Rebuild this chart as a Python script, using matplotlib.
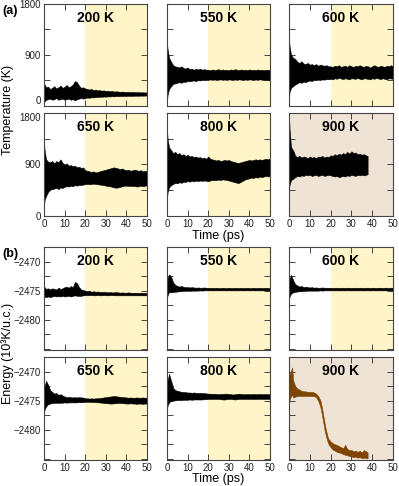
import matplotlib
matplotlib.use("Agg")
import matplotlib.pyplot as plt
from matplotlib.ticker import MultipleLocator, FixedLocator

plt.rcParams['font.family'] = ['Liberation Sans', 'DejaVu Sans']
plt.rcParams['axes.unicode_minus'] = True

# ---------------- data ----------------
TIME = [0, 0.3, 1, 2, 3, 4, 5, 6, 7, 8, 9, 10, 11, 12, 13, 14, 15, 16, 17, 18, 19, 20,
        21, 22, 23, 24, 25, 26, 27, 28, 29, 30, 31, 32, 33, 34, 35, 36, 37, 38, 39, 40,
        41, 42, 43, 44, 45, 46, 47, 48, 49, 50]
TIME_900 = [0, 0.3, 1, 2, 3, 4, 5, 6, 7, 8, 9, 10, 11, 12, 13, 14, 15, 16, 17, 18, 19, 20,
            21, 22, 23, 24, 25, 26, 27, 28, 29, 30, 31, 32, 33, 34, 35, 36, 37, 37.8]

TEMP_LABELS = ["200 K", "550 K", "600 K", "650 K", "800 K", "900 K"]
TEMP_TICKS = [0, 900, 1800]
ENERGY_TICKS = [-2480, -2475, -2470]

# Temperature (K) envelopes: upper / lower
T200_UP = [350, 380, 330, 340, 300, 320, 350, 310, 330, 360, 320, 340, 370, 330, 350, 380, 440, 420,
           360, 320, 330, 310, 300, 290, 300, 280, 290, 275, 280, 270, 275, 265, 270, 260, 265, 255,
           260, 255, 250, 255, 250, 248, 250, 245, 248, 245, 243, 245, 240, 242, 240, 238]
T200_LO = [100, 80, 110, 120, 130, 110, 120, 140, 110, 120, 130, 110, 120, 130, 110, 120, 100, 120,
           130, 140, 130, 140, 150, 145, 155, 150, 160, 158, 165, 162, 168, 165, 170, 168, 172, 170,
           175, 173, 176, 175, 178, 177, 180, 178, 180, 181, 182, 181, 183, 182, 184, 184]
T550_UP = [1100, 1000, 850, 780, 720, 700, 690, 680, 700, 670, 660, 680, 650, 660, 640, 655, 645, 660,
           640, 650, 640, 640, 630, 645, 635, 640, 650, 630, 645, 635, 640, 630, 645, 635, 650, 640,
           630, 645, 635, 640, 630, 645, 635, 640, 630, 645, 635, 640, 630, 640, 635, 640]
T550_LO = [100, 200, 300, 350, 390, 400, 410, 420, 410, 430, 425, 440, 435, 445, 450, 440, 455, 450,
           460, 455, 460, 460, 470, 462, 468, 460, 465, 470, 462, 468, 460, 470, 465, 460, 468, 462,
           470, 465, 460, 468, 462, 470, 465, 460, 468, 462, 470, 465, 460, 468, 462, 466]
T600_UP = [1170, 1050, 900, 850, 830, 780, 760, 790, 750, 740, 760, 730, 740, 720, 740, 710, 730, 720,
           710, 720, 700, 700, 690, 710, 700, 720, 690, 700, 710, 690, 720, 700, 690, 710, 700, 720,
           700, 690, 710, 700, 680, 700, 720, 700, 690, 710, 700, 690, 710, 700, 720, 700]
T600_LO = [150, 250, 320, 350, 380, 400, 420, 410, 430, 420, 440, 450, 440, 460, 455, 465, 460, 470,
           465, 475, 470, 480, 470, 490, 480, 500, 485, 475, 490, 480, 470, 490, 485, 480, 495, 480,
           470, 490, 485, 480, 470, 490, 480, 495, 485, 475, 490, 480, 470, 490, 485, 480]
T650_UP = [1280, 1150, 990, 950, 940, 960, 920, 960, 940, 990, 930, 900, 920, 880, 890, 870, 880, 850,
           860, 840, 850, 800, 790, 780, 770, 780, 760, 770, 780, 790, 800, 810, 820, 830, 840, 850,
           840, 830, 820, 830, 810, 800, 810, 790, 800, 810, 800, 790, 800, 780, 790, 780]
T650_LO = [170, 280, 350, 420, 460, 470, 480, 490, 470, 500, 490, 510, 520, 515, 530, 520, 540, 530,
           545, 540, 550, 555, 560, 555, 560, 565, 560, 555, 550, 545, 540, 530, 525, 520, 510, 500,
           495, 500, 510, 520, 530, 530, 525, 530, 520, 525, 515, 520, 530, 520, 530, 535]
T800_UP = [1500, 1350, 1200, 1150, 1100, 1120, 1080, 1100, 1060, 1080, 1050, 1070, 1040, 1050, 1030,
           1040, 1020, 1030, 1010, 1020, 1000, 1040, 1000, 990, 980, 970, 980, 960, 970, 980, 970, 980,
           960, 950, 940, 930, 930, 940, 950, 960, 970, 980, 970, 980, 990, 980, 990, 980, 990, 1000,
           990, 1000]
T800_LO = [300, 420, 500, 540, 560, 580, 570, 590, 580, 600, 595, 610, 600, 615, 605, 620, 610, 620,
           615, 620, 615, 610, 620, 630, 625, 630, 635, 630, 640, 635, 630, 620, 610, 600, 590, 580,
           580, 600, 620, 640, 650, 660, 670, 665, 680, 670, 690, 680, 690, 700, 690, 700]
T900_UP = [1770, 1500, 1200, 1150, 1050, 1030, 1050, 1020, 1040, 1030, 1010, 1040, 1020, 1030, 1010,
           1040, 1030, 1050, 1020, 1040, 1030, 1060, 1050, 1080, 1060, 1090, 1070, 1100, 1080, 1120,
           1090, 1130, 1100, 1110, 1080, 1090, 1070, 1080, 1060, 1050]
T900_LO = [460, 550, 630, 650, 680, 700, 690, 710, 700, 720, 710, 720, 700, 710, 720, 700, 710, 720,
           700, 710, 720, 710, 700, 690, 700, 680, 690, 700, 690, 710, 700, 720, 710, 700, 720, 710,
           720, 710, 720, 730]

# Energy (10^3 K / u.c.) envelopes
E200_UP = [-2474.6, -2474.4, -2474.7, -2474.6, -2474.8, -2474.6, -2474.7, -2474.8, -2474.5, -2474.7,
           -2474.6, -2474.4, -2474.3, -2474.5, -2474.2, -2474.4, -2473.5, -2473.7, -2474.4, -2474.8,
           -2474.9, -2475.0, -2475.1, -2475.0, -2475.2, -2475.1, -2475.2, -2475.15, -2475.2, -2475.25,
           -2475.2, -2475.25, -2475.3, -2475.25, -2475.3, -2475.3, -2475.25, -2475.3, -2475.35, -2475.3,
           -2475.35, -2475.35, -2475.3, -2475.35, -2475.4, -2475.35, -2475.4, -2475.4, -2475.35, -2475.4,
           -2475.4, -2475.4]
E200_LO = [-2476.2, -2476.0, -2476.1, -2476.0, -2476.1, -2476.0, -2475.9, -2476.0, -2475.95, -2476.0,
           -2475.9, -2476.0, -2475.95, -2475.9, -2476.0, -2475.9, -2475.8, -2475.9, -2475.9, -2475.9,
           -2475.8, -2475.8, -2475.75, -2475.8, -2475.75, -2475.8, -2475.8, -2475.75, -2475.8, -2475.8,
           -2475.75, -2475.8, -2475.8, -2475.8, -2475.75, -2475.8, -2475.8, -2475.8, -2475.8, -2475.8,
           -2475.8, -2475.8, -2475.8, -2475.8, -2475.8, -2475.8, -2475.8, -2475.8, -2475.8, -2475.8,
           -2475.8, -2475.8]
E550_UP = [-2474.0, -2472.8, -2472.2, -2472.6, -2473.6, -2474.0, -2474.2, -2474.3, -2474.2, -2474.35,
           -2474.4, -2474.4, -2474.45, -2474.4, -2474.45, -2474.5, -2474.45, -2474.5, -2474.5, -2474.45,
           -2474.5, -2474.5, -2474.55, -2474.5, -2474.55, -2474.5, -2474.55, -2474.55, -2474.5, -2474.55,
           -2474.55, -2474.5, -2474.55, -2474.55, -2474.5, -2474.55, -2474.55, -2474.5, -2474.55, -2474.55,
           -2474.5, -2474.55, -2474.55, -2474.5, -2474.55, -2474.55, -2474.5, -2474.55, -2474.55, -2474.5,
           -2474.55, -2474.55]
E550_LO = [-2476.2, -2475.8, -2475.2, -2475.3, -2475.2, -2475.2, -2475.15, -2475.1, -2475.1, -2475.05,
           -2475.05, -2475.0, -2475.05, -2475.0, -2475.0, -2475.0, -2475.0, -2474.95, -2475.0, -2474.95,
           -2474.95, -2474.95, -2474.95, -2474.95, -2474.95, -2474.95, -2474.95, -2474.95, -2474.95,
           -2474.95, -2474.95, -2474.95, -2474.95, -2474.95, -2474.95, -2474.95, -2474.95, -2474.95,
           -2474.95, -2474.95, -2474.95, -2474.95, -2474.95, -2474.95, -2474.95, -2474.95, -2474.95,
           -2474.95, -2474.95, -2474.95, -2474.95, -2474.95]
E600_UP = [-2474.2, -2473.0, -2472.3, -2473.2, -2473.9, -2474.1, -2474.3, -2474.2, -2474.4, -2474.3,
           -2474.4, -2474.45, -2474.4, -2474.5, -2474.45, -2474.5, -2474.5, -2474.45, -2474.5, -2474.5,
           -2474.5, -2474.5, -2474.55, -2474.5, -2474.5, -2474.55, -2474.5, -2474.5, -2474.55, -2474.5,
           -2474.5, -2474.55, -2474.5, -2474.5, -2474.55, -2474.5, -2474.5, -2474.55, -2474.5, -2474.5,
           -2474.55, -2474.5, -2474.5, -2474.55, -2474.5, -2474.5, -2474.55, -2474.5, -2474.5, -2474.55,
           -2474.5, -2474.5]
E600_LO = [-2476.5, -2476.0, -2475.5, -2475.3, -2475.2, -2475.15, -2475.1, -2475.1, -2475.05, -2475.05,
           -2475.0, -2475.0, -2475.0, -2475.0, -2475.0, -2475.0, -2474.95, -2475.0, -2474.95, -2474.95,
           -2474.95, -2474.95, -2474.95, -2474.95, -2474.95, -2474.95, -2474.95, -2474.95, -2474.95,
           -2474.95, -2474.95, -2474.95, -2474.95, -2474.95, -2474.95, -2474.95, -2474.95, -2474.95,
           -2474.95, -2474.95, -2474.95, -2474.95, -2474.95, -2474.95, -2474.95, -2474.95, -2474.95,
           -2474.95, -2474.95, -2474.95, -2474.95, -2474.95]
E650_UP = [-2473.7, -2472.5, -2471.6, -2472.3, -2473.2, -2473.5, -2473.8, -2473.7, -2474.0, -2473.9,
           -2474.1, -2474.3, -2474.4, -2474.35, -2474.4, -2474.45, -2474.4, -2474.45, -2474.4, -2474.45,
           -2474.45, -2474.6, -2474.6, -2474.65, -2474.6, -2474.65, -2474.6, -2474.6, -2474.55, -2474.5,
           -2474.45, -2474.4, -2474.35, -2474.3, -2474.25, -2474.2, -2474.25, -2474.3, -2474.35, -2474.4,
           -2474.4, -2474.45, -2474.5, -2474.45, -2474.5, -2474.5, -2474.45, -2474.5, -2474.5, -2474.45,
           -2474.5, -2474.5]
E650_LO = [-2477.3, -2476.5, -2476.0, -2475.6, -2475.5, -2475.4, -2475.4, -2475.35, -2475.4, -2475.35,
           -2475.35, -2475.3, -2475.35, -2475.3, -2475.3, -2475.3, -2475.3, -2475.3, -2475.25, -2475.3,
           -2475.25, -2475.2, -2475.2, -2475.2, -2475.2, -2475.25, -2475.25, -2475.3, -2475.3, -2475.35,
           -2475.4, -2475.45, -2475.45, -2475.5, -2475.5, -2475.45, -2475.45, -2475.4, -2475.4, -2475.45,
           -2475.45, -2475.5, -2475.5, -2475.45, -2475.5, -2475.5, -2475.55, -2475.5, -2475.5, -2475.55,
           -2475.5, -2475.5]
E800_UP = [-2473.0, -2471.5, -2470.4, -2471.6, -2472.8, -2473.2, -2473.3, -2473.4, -2473.5, -2473.5,
           -2473.55, -2473.6, -2473.6, -2473.65, -2473.6, -2473.65, -2473.7, -2473.65, -2473.7, -2473.7,
           -2473.75, -2473.8, -2473.8, -2473.85, -2473.8, -2473.85, -2473.9, -2473.85, -2473.85, -2473.8,
           -2473.8, -2473.85, -2473.9, -2473.95, -2473.9, -2473.85, -2473.8, -2473.85, -2473.9, -2473.9,
           -2473.85, -2473.9, -2473.9, -2473.85, -2473.9, -2473.9, -2473.85, -2473.9, -2473.9, -2473.85,
           -2473.9, -2473.9]
E800_LO = [-2476.5, -2475.8, -2475.3, -2475.0, -2475.0, -2474.95, -2474.9, -2474.9, -2474.9, -2474.85,
           -2474.85, -2474.85, -2474.8, -2474.85, -2474.8, -2474.8, -2474.8, -2474.8, -2474.8, -2474.75,
           -2474.75, -2474.7, -2474.7, -2474.7, -2474.7, -2474.7, -2474.7, -2474.75, -2474.8, -2474.8,
           -2474.75, -2474.7, -2474.7, -2474.75, -2474.8, -2474.75, -2474.7, -2474.7, -2474.7, -2474.7,
           -2474.7, -2474.7, -2474.7, -2474.7, -2474.7, -2474.7, -2474.7, -2474.7, -2474.7, -2474.7,
           -2474.7, -2474.7]
TIME_E900 = [0, 0.3, 1, 1.5, 2, 3, 4, 5, 6, 7, 8, 9, 10, 11, 12, 13, 14, 15, 15.5, 16, 16.5, 17, 17.5,
             18, 18.5, 19, 20, 21, 22, 23, 24, 25, 26, 27, 28, 29, 30, 31, 32, 33, 34, 35, 36, 37, 37.8]
E900_UP = [-2471.2, -2470.5, -2469.8, -2469.3, -2471.5, -2472.5, -2472.9, -2473.1, -2473.3, -2473.4,
           -2473.4, -2473.5, -2473.5, -2473.5, -2473.6, -2473.8, -2474.2, -2474.9, -2475.6, -2476.5,
           -2477.6, -2478.6, -2479.6, -2480.4, -2481.1, -2481.6, -2482.0, -2482.3, -2482.5, -2482.6,
           -2482.8, -2483.0, -2483.2, -2482.6, -2483.3, -2483.5, -2483.5, -2483.7, -2483.6, -2483.8,
           -2483.6, -2483.9, -2483.5, -2483.7, -2483.9]
E900_LO = [-2475.9, -2474.8, -2474.2, -2474.0, -2474.5, -2474.3, -2474.2, -2474.2, -2474.2, -2474.2,
           -2474.2, -2474.2, -2474.2, -2474.2, -2474.2, -2474.4, -2475.0, -2476.0, -2476.8, -2477.8,
           -2478.8, -2479.8, -2480.7, -2481.4, -2482.0, -2482.5, -2483.0, -2483.4, -2483.6, -2483.8,
           -2483.9, -2484.0, -2484.2, -2484.3, -2484.4, -2484.5, -2484.6, -2484.7, -2484.6, -2484.8,
           -2484.7, -2484.9, -2484.8, -2484.9, -2484.9]

TEMP_SERIES = [(TIME, T200_UP, T200_LO), (TIME, T550_UP, T550_LO), (TIME, T600_UP, T600_LO),
               (TIME, T650_UP, T650_LO), (TIME, T800_UP, T800_LO), (TIME_900, T900_UP, T900_LO)]
ENER_SERIES = [(TIME, E200_UP, E200_LO), (TIME, E550_UP, E550_LO), (TIME, E600_UP, E600_LO),
               (TIME, E650_UP, E650_LO), (TIME, E800_UP, E800_LO), (TIME_E900, E900_UP, E900_LO)]

# ---------------- layout ----------------
W, H = 399, 486
fig = plt.figure(figsize=(W / 100, H / 100), dpi=100)

COLS = [(44, 147), (167, 270), (289, 393)]
ROWS_A = [(4, 106), (113, 216)]
ROWS_B = [(247, 350), (357, 460)]

YELLOW = '#FFF5C8'
BEIGE = '#EFE3D6'
BROWN = '#7F4400'
SPINE = '#444444'


def make_ax(col, row):
    x0, x1 = col
    y0, y1 = row
    return fig.add_axes([x0 / W, 1 - y1 / H, (x1 - x0) / W, (y1 - y0) / H])


def style(ax, show_x, show_y):
    ax.set_xlim(0, 50)
    ax.xaxis.set_major_locator(MultipleLocator(10))
    ax.tick_params(which='both', direction='in', top=True, right=True,
                   labelsize=7, color=SPINE, width=0.7, pad=2, labelcolor='#222222')
    ax.tick_params(which='major', length=4)
    ax.tick_params(which='minor', length=4)
    if not show_x:
        ax.tick_params(labelbottom=False)
    if not show_y:
        ax.tick_params(labelleft=False)
    for s in ax.spines.values():
        s.set_color(SPINE)
        s.set_linewidth(0.8)


def panel(ax, idx, series, ylim, is_energy):
    t, up, lo = series
    if idx == 5:
        ax.axvspan(0, 50, color=BEIGE, lw=0, zorder=0)
    else:
        ax.axvspan(20, 50, color=YELLOW, lw=0, zorder=0)
    color = BROWN if (is_energy and idx == 5) else 'black'
    ax.fill_between(t, lo, up, color=color, lw=0.4, edgecolor=color, zorder=2)
    ax.set_ylim(*ylim)
    ax.text(0.5, 0.86, TEMP_LABELS[idx], transform=ax.transAxes, ha='center', va='center',
            fontsize=10, fontweight='bold', zorder=3)


for r in range(2):
    for c in range(3):
        idx = r * 3 + c
        ax = make_ax(COLS[c], ROWS_A[r])
        panel(ax, idx, TEMP_SERIES[idx], (0, 1800), False)
        ax.yaxis.set_major_locator(FixedLocator(TEMP_TICKS))
        ax.yaxis.set_minor_locator(MultipleLocator(450))
        style(ax, r == 1, c == 0)
        if c == 0:
            ticks = ax.yaxis.get_major_ticks()
            if r == 0:
                ticks[0].label1.set_verticalalignment('bottom')
            else:
                ticks[-1].label1.set_verticalalignment('top')

for r in range(2):
    for c in range(3):
        idx = r * 3 + c
        ax = make_ax(COLS[c], ROWS_B[r])
        panel(ax, idx, ENER_SERIES[idx], (-2485.2, -2467.5), True)
        ax.yaxis.set_major_locator(FixedLocator(ENERGY_TICKS))
        ax.yaxis.set_minor_locator(MultipleLocator(2.5))
        style(ax, r == 1, c == 0)

fig.text(2 / W, 1 - 11 / H, '(a)', fontsize=9, fontweight='bold', ha='left', va='center')
fig.text(2 / W, 1 - 254 / H, '(b)', fontsize=9, fontweight='bold', ha='left', va='center')
fig.text(8 / W, 1 - 110 / H, 'Temperature (K)', rotation=90, fontsize=9, ha='center', va='center')
fig.text(8 / W, 1 - 353 / H, 'Energy (10³K/u.c.)', rotation=90, fontsize=9, ha='center', va='center')
fig.text(218 / W, 1 - 236 / H, 'Time (ps)', fontsize=9, ha='center', va='center')
fig.text(218 / W, 1 - 479 / H, 'Time (ps)', fontsize=9, ha='center', va='center')

fig.savefig('out.png', dpi=100)
